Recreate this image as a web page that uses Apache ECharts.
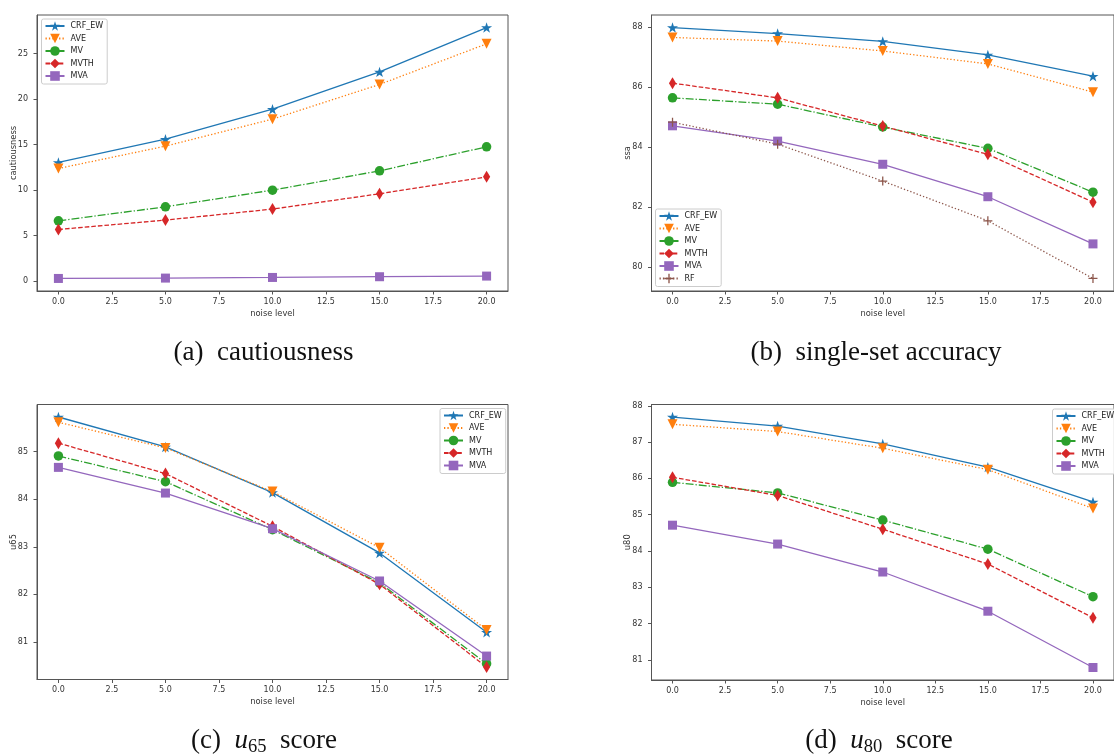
<!DOCTYPE html>
<html>
<head>
<meta charset="utf-8">
<script src="https://cdn.jsdelivr.net/npm/echarts@6/dist/echarts.min.js"></script>
<style>
  html, body { margin: 0; padding: 0; background: #fff; }
  #main { width: 1114px; height: 756px; }
</style>
</head>
<body>
<div id="main"></div>
<script>
var noiseLevels = [0, 5, 10, 15, 20]
var xTicks = [0, 2.5, 5, 7.5, 10, 12.5, 15, 17.5, 20]

// (a) cautiousness
var cautCRF = [13.03, 15.59, 18.88, 22.98, 27.85]
var cautAVE = [12.37, 14.82, 17.79, 21.60, 26.06]
var cautMV = [6.62, 8.16, 9.99, 12.11, 14.75]
var cautMVTH = [5.67, 6.70, 7.91, 9.59, 11.45]
var cautMVA = [0.29, 0.33, 0.40, 0.48, 0.55]
var cautTicks = [0, 5, 10, 15, 20, 25]

// (b) single-set accuracy
var ssaCRF = [87.98, 87.78, 87.52, 87.07, 86.36]
var ssaAVE = [87.65, 87.53, 87.20, 86.77, 85.83]
var ssaMV = [85.64, 85.43, 84.67, 83.96, 82.50]
var ssaMVTH = [86.13, 85.64, 84.70, 83.76, 82.17]
var ssaMVA = [84.71, 84.20, 83.43, 82.35, 80.78]
var ssaRF = [84.83, 84.10, 82.87, 81.55, 79.63]
var ssaTicks = [80, 82, 84, 86, 88]

// (c) u65 score
var u65CRF = [85.73, 85.10, 84.14, 82.87, 81.20]
var u65AVE = [85.62, 85.08, 84.16, 82.98, 81.25]
var u65MV = [84.91, 84.37, 83.36, 82.24, 80.54]
var u65MVTH = [85.18, 84.54, 83.43, 82.21, 80.47]
var u65MVA = [84.67, 84.13, 83.38, 82.28, 80.70]
var u65Ticks = [81, 82, 83, 84, 85]

// (d) u80 score
var u80CRF = [87.69, 87.44, 86.95, 86.31, 85.35]
var u80AVE = [87.49, 87.29, 86.83, 86.24, 85.17]
var u80MV = [85.89, 85.60, 84.85, 84.05, 82.74]
var u80MVTH = [86.03, 85.53, 84.60, 83.64, 82.16]
var u80MVA = [84.71, 84.19, 83.42, 82.34, 80.79]
var u80Ticks = [81, 82, 83, 84, 85, 86, 87, 88]

var STAR = 'path://M10 0 L12.245 6.91 L19.511 6.91 L13.633 11.18 L15.878 18.09 L10 13.82 L4.122 18.09 L6.367 11.18 L0.489 6.91 L7.755 6.91 Z'
var THIN_DIAMOND = 'path://M3 0 L6 5 L3 10 L0 5 Z'
var PLUS = 'path://M4.3 0 H5.7 V4.3 H10 V5.7 H5.7 V10 H4.3 V5.7 H0 V4.3 H4.3 Z'

// marker / line style per method (matplotlib-like)
var styles = {
    CRF_EW: { color: '#1f77b4', symbol: STAR, size: 11, rotate: 0, dash: 'solid' },
    AVE: { color: '#ff7f0e', symbol: 'triangle', size: 10, rotate: 180, dash: [1.3, 2.1] },
    MV: { color: '#2ca02c', symbol: 'circle', size: 9.5, rotate: 0, dash: [7.9, 2, 1.3, 2] },
    MVTH: { color: '#d62728', symbol: THIN_DIAMOND, size: 12, rotate: 0, dash: [4.6, 2] },
    MVA: { color: '#9467bd', symbol: 'rect', size: 9, rotate: 0, dash: 'solid' },
    RF: { color: '#8c564b', symbol: PLUS, size: 9, rotate: 0, dash: [1.3, 2.1] }
}

function pad5(v) {
    return { min: v.min - 0.05 * (v.max - v.min), max: v.max + 0.05 * (v.max - v.min) }
}

var panels = [
    { left: 37, top: 15, height: 276, yName: 'cautiousness', ticks: cautTicks,
      lines: [['CRF_EW', cautCRF], ['AVE', cautAVE], ['MV', cautMV], ['MVTH', cautMVTH], ['MVA', cautMVA]],
      legend: { left: 41.5, top: 19 } },
    { left: 651.5, top: 15, height: 276, yName: 'ssa', ticks: ssaTicks,
      lines: [['CRF_EW', ssaCRF], ['AVE', ssaAVE], ['MV', ssaMV], ['MVTH', ssaMVTH], ['MVA', ssaMVA], ['RF', ssaRF]],
      legend: { left: 655.5, top: 209 } },
    { left: 37, top: 404.5, height: 275, yName: 'u65', ticks: u65Ticks,
      lines: [['CRF_EW', u65CRF], ['AVE', u65AVE], ['MV', u65MV], ['MVTH', u65MVTH], ['MVA', u65MVA]],
      legend: { left: 440, top: 408.5 } },
    { left: 651.5, top: 404.5, height: 275.5, yName: 'u80', ticks: u80Ticks,
      lines: [['CRF_EW', u80CRF], ['AVE', u80AVE], ['MV', u80MV], ['MVTH', u80MVTH], ['MVA', u80MVA]],
      legend: { left: 1052.5, top: 409 } }
]

var axisColor = '#555'
var textColor = '#333'
var grids = [], xAxes = [], yAxes = [], series = [], legends = []

panels.forEach(function (p, i) {
    grids.push({
        left: p.left, top: p.top, width: 471, height: p.height,
        show: true, borderColor: axisColor, borderWidth: 1, backgroundColor: 'transparent'
    })
    xAxes.push({
        type: 'value', gridIndex: i,
        min: function (v) { return pad5(v).min },
        max: function (v) { return pad5(v).max },
        name: 'noise level', nameLocation: 'middle', nameGap: 18.5, nameMoveOverlap: false,
        nameTextStyle: { fontFamily: 'DejaVu Sans', fontSize: 8.3, color: textColor },
        splitLine: { show: false },
        axisLine: { onZero: false, lineStyle: { color: axisColor, width: 1 } },
        axisTick: { length: 3.5, lineStyle: { color: axisColor }, customValues: xTicks },
        axisLabel: {
            customValues: xTicks, margin: 6.5, fontFamily: 'DejaVu Sans', fontSize: 8, color: textColor,
            formatter: function (v) { return v.toFixed(1) }
        }
    })
    yAxes.push({
        type: 'value', gridIndex: i,
        min: function (v) { return pad5(v).min },
        max: function (v) { return pad5(v).max },
        name: p.yName, nameLocation: 'middle', nameGap: 19.5, nameMoveOverlap: false,
        nameTextStyle: { fontFamily: 'DejaVu Sans', fontSize: 8.3, color: textColor },
        splitLine: { show: false },
        axisLine: { show: true, onZero: false, lineStyle: { color: axisColor, width: 1 } },
        axisTick: { show: true, length: 3.5, lineStyle: { color: axisColor }, customValues: p.ticks },
        axisLabel: {
            customValues: p.ticks, margin: 9, fontFamily: 'DejaVu Sans', fontSize: 8, color: textColor,
            formatter: function (v) { return String(Math.round(v)) }
        }
    })
    var names = []
    p.lines.forEach(function (l) {
        var s = styles[l[0]]
        names.push(l[0])
        series.push({
            name: l[0], type: 'line', xAxisIndex: i, yAxisIndex: i,
            data: l[1].map(function (v, k) { return [noiseLevels[k], v] }),
            symbol: s.symbol, symbolSize: s.size, symbolRotate: s.rotate, symbolKeepAspect: true,
            showAllSymbol: true, clip: false,
            lineStyle: { color: s.color, width: 1.3, type: s.dash },
            itemStyle: { color: s.color, borderWidth: 0 },
            emphasis: { disabled: true }
        })
    })
    legends.push({
        data: names, orient: 'vertical', left: p.legend.left, top: p.legend.top,
        itemWidth: 19, itemHeight: 12, itemGap: 0.5, selectedMode: false,
        padding: [1, 4, 2, 3],
        backgroundColor: 'rgba(255,255,255,0.85)', borderColor: '#ccc', borderWidth: 1, borderRadius: 2,
        textStyle: { fontFamily: 'DejaVu Sans', fontSize: 8, lineHeight: 12, color: '#222', padding: [0, 0, 0, 1] }
    })
})

var capFont = 'Liberation Serif'
function caption(x, y, text, rich) {
    return {
        type: 'text', x: x, y: y,
        style: {
            text: text, fontFamily: capFont, fontSize: 27, fill: '#111',
            align: 'center', verticalAlign: 'middle', rich: rich || {}
        }
    }
}
var subRich = {
    i: { fontFamily: capFont, fontSize: 27, fontStyle: 'italic', color: '#111' },
    s: { fontFamily: capFont, fontSize: 18.5, color: '#111', padding: [12, 0, 0, 0] },
    t: { fontFamily: capFont, fontSize: 27, color: '#111' }
}

var option = {
    animation: false,
    grid: grids,
    xAxis: xAxes,
    yAxis: yAxes,
    legend: legends,
    series: series,
    graphic: [
        caption(263.5, 353, '(a)  cautiousness'),
        caption(876, 353, '(b)  single-set accuracy'),
        caption(264, 741, '{t|(c)  }{i|u}{s|65}{t|  score}', subRich),
        caption(879, 741, '{t|(d)  }{i|u}{s|80}{t|  score}', subRich)
    ]
}

var myChart = echarts.init(document.getElementById('main'))
myChart.setOption(option)
</script>
</body>
</html>
